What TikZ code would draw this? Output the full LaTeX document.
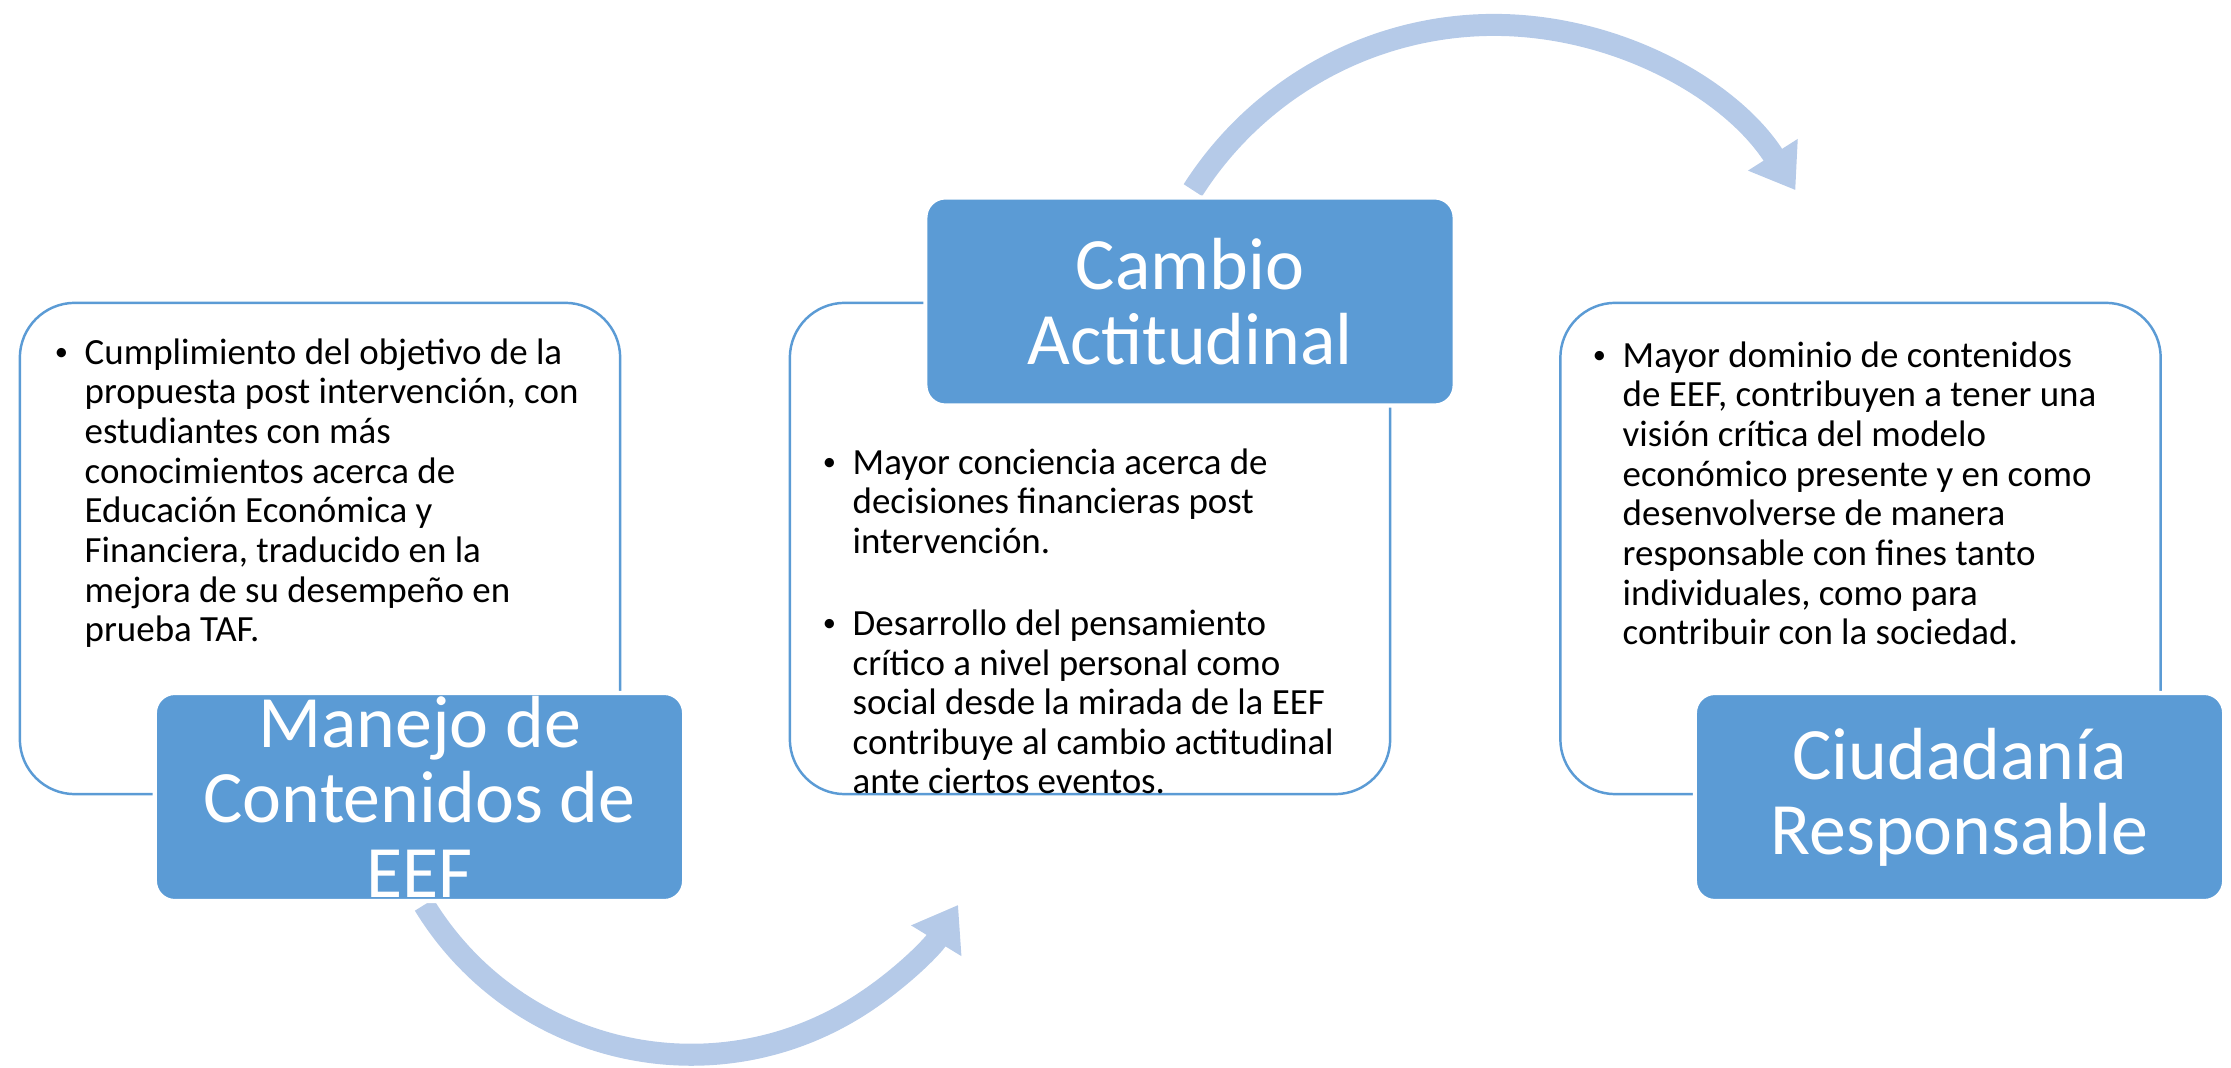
\documentclass[tikz,border=0pt]{standalone}
\usepackage{fontspec}
\setmainfont{Carlito}
\usetikzlibrary{positioning,arrows.meta}
\definecolor{boxblue}{RGB}{91,155,213}
\definecolor{arcblue}{RGB}{181,202,232}
\newcommand{\itm}{\llap{\raisebox{1pt}{\fontsize{7.5}{8}\selectfont\textbullet}\hspace{0.45em}}}
\begin{document}
\begin{tikzpicture}[x=0.01cm,y=0.01cm,
    textbox/.style={draw=boxblue,line width=0.7pt,fill=white,rounded corners=0.55cm,minimum width=6cm,minimum height=4.91cm},
    titlebox/.style={draw=white,line width=1.2pt,fill=boxblue,rounded corners=0.2cm,minimum width=5.29cm,minimum height=2.08cm,text=white,align=center,inner sep=0pt,font=\fontsize{21}{21.3}\selectfont},
    bullets/.style={anchor=north west,align=left,inner sep=0pt,font=\fontsize{10.5}{11.27}\selectfont},
    flow/.style={arcblue,line width=0.22cm,-{Triangle[width=0.56cm,length=0.42cm]}}]

\useasboundingbox (0,0) rectangle (2231,-1068);

\coordinate (t1) at (424.2,-904.9);
\coordinate (t2) at (1192.9,-190.2);
\draw[flow] (t1) arc[start angle=211.4,end angle=328.6,radius=3.126cm];
\draw[flow] (t2) arc[start angle=147.5,end angle=32.5,radius=3.57cm];

\foreach \name/\x in {box1/320, box2/1090, box3/1860.5}
    \node[textbox] (\name) at (\x,-548.5) {};

\node[bullets] (txt1) at (84,-338) {\itm Cumplimiento del objetivo de la\\
    propuesta post intervención, con\\
    estudiantes con más\\
    conocimientos acerca de\\
    Educación Económica y\\
    Financiera, traducido en la\\
    mejora de su desempeño en\\
    prueba TAF.};
\node[bullets] (txt2) at (852,-448) {\itm Mayor conciencia acerca de\\
    decisiones financieras post\\
    intervención.\\[12pt]
    \itm Desarrollo del pensamiento\\
    crítico a nivel personal como\\
    social desde la mirada de la EEF\\
    contribuye al cambio actitudinal\\
    ante ciertos eventos.};
\node[bullets] (txt3) at (1622,-341) {\itm Mayor dominio de contenidos\\
    de EEF, contribuyen a tener una\\
    visión crítica del modelo\\
    económico presente y en como\\
    desenvolverse de manera\\
    responsable con fines tanto\\
    individuales, como para\\
    contribuir con la sociedad.};

\node[titlebox] (step1) at (419.5,-797) {Manejo de\\ Contenidos de\\ EEF};
\node[titlebox] (step2) at (1190,-301.5) {Cambio\\ Actitudinal};
\node[titlebox] (step3) at (1959.5,-797) {Ciudadanía\\ Responsable};
\end{tikzpicture}
\end{document}
